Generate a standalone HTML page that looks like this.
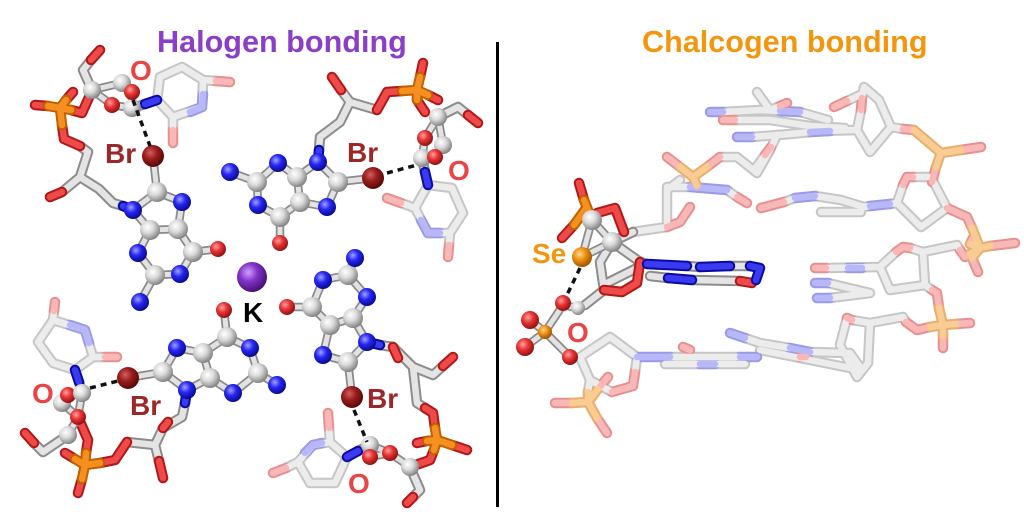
<!DOCTYPE html>
<html><head><meta charset="utf-8"><style>
html,body{margin:0;padding:0;background:#fff;width:1024px;height:521px;overflow:hidden}
svg{display:block}
text{font-family:"Liberation Sans",Arial,sans-serif;font-weight:bold}
</style></head><body>
<svg width="1024" height="521" viewBox="0 0 1024 521" xmlns="http://www.w3.org/2000/svg">
<defs>
<radialGradient id="gC" cx="0.38" cy="0.35" r="0.68"><stop offset="0" stop-color="#ffffff"/><stop offset="0.45" stop-color="#dadada"/><stop offset="1" stop-color="#7e7e7e"/></radialGradient>
<radialGradient id="gN" cx="0.38" cy="0.35" r="0.68"><stop offset="0" stop-color="#a0a0ff"/><stop offset="0.45" stop-color="#2626f2"/><stop offset="1" stop-color="#08088a"/></radialGradient>
<radialGradient id="gO" cx="0.38" cy="0.35" r="0.68"><stop offset="0" stop-color="#ffa0a0"/><stop offset="0.45" stop-color="#e63434"/><stop offset="1" stop-color="#8a1010"/></radialGradient>
<radialGradient id="gBr" cx="0.38" cy="0.35" r="0.68"><stop offset="0" stop-color="#d06060"/><stop offset="0.45" stop-color="#9a1c1c"/><stop offset="1" stop-color="#520808"/></radialGradient>
<radialGradient id="gK" cx="0.38" cy="0.35" r="0.68"><stop offset="0" stop-color="#d0a0ff"/><stop offset="0.45" stop-color="#8232c8"/><stop offset="1" stop-color="#441070"/></radialGradient>
<radialGradient id="gS" cx="0.38" cy="0.35" r="0.68"><stop offset="0" stop-color="#ffd890"/><stop offset="0.45" stop-color="#f09010"/><stop offset="1" stop-color="#985000"/></radialGradient>

<g id="PG">
<path d="M157,100 L160,77 L182,67 L203,80 L202,107 L173,117 Z M203,80 L216,81 M173,117 L173,130"/>
<path d="M428,185 L452,188 L463,213 L450,233 L428,233 L415,208 Z M415,208 L401,203 M450,233 L449,245"/>
<path d="M75,370 L53,363 L38,342 L53,320 L85,330 L93,357 Z M53,320 L54,311 M93,357 L105,357"/>
<path d="M347,457 L330,442 L313,445 L298,462 L310,483 L335,483 Z M330,442 L329,428 M298,462 L286,468"/>
<path d="M723,112 L760,110 L800,112 L828,120 M735,120 L770,120 L810,126 L845,128 M752,137 L790,134 L821,131 L857,130 M757,92 L770,110 L780,106 M754,170 L765,155"/>
<path d="M857,130 L861,110 M862,98 L864,87 L879,100 L891,127 L870,152 L857,130 M860,95 L847,101 M891,127 L903,129"/>
<path d="M720,157 L737,157 L757,173 L770,150 L777,135 M667,187 L690,187 M727,190 L737,197 M633,232 L667,227 L667,190 L680,180"/>
<path d="M784,202 L795,198 M815,196 L841,200 L864,207 L870,206 M890,204 L897,203 L903,185 M913,177 L931,177 L947,208 L921,227 L897,203 M821,212 L861,212"/>
<path d="M826,268 L880,267 M828,283 L870,293 M830,298 L870,293 M880,267 L896,252 M910,248 L923,252 L925,285 L890,290 L880,267 M923,252 L957,245 L960,250 M925,285 L932,290"/>
<path d="M745,338 L760,343 L790,348 M810,352 L850,353 L860,367 M760,350 L800,358 L860,370 M852,320 L870,323 L868,363 L857,377 L840,345 L847,318 M870,323 L903,317 L906,322"/>
<path d="M580,357 L610,337 L637,357 L635,372 M612,392 L590,380 L580,357 M670,357 L740,357 M665,364 L745,364 M590,380 L588,392"/>
</g>
<g id="PB">
<path d="M203,94 L202,107 L190,112 M440,233 L428,233 L421,220 M70,325 L85,330 L89,343 M322,443 L313,445 L305,453"/>
<path d="M710,112 L723,112 M780,111 L800,112 M737,137 L752,137 M810,132 L830,131 M690,187 L727,190 M795,198 L815,196 M870,206 L890,204 M815,283 L828,283 M817,298 L830,298 M848,268 L862,268 M730,333 L745,338 M790,348 L810,352 M637,357 L670,357 M740,357 L757,357 M700,364 L715,364"/>
</g>
<g id="PR">
<path d="M216,81 L230,82 M173,130 L173,143 M401,203 L387,198 M449,245 L448,257 M54,311 L55,302 M105,357 L117,357 M329,428 L328,413 M286,468 L273,473"/>
<path d="M723,120 L735,120 M780,106 L787,103 M765,155 L771,147 M861,110 L862,98 M847,101 L834,107 M903,129 L914,130 M667,157 L680,167 M707,167 L720,157 M737,197 L747,203 M667,227 L680,222 L690,207 M761,208 L784,202 M903,185 L907,177 L913,177 M947,208 L967,217 L972,228"/>
<path d="M961,150 L981,147 M936,167 L932,182 M990,246 L1015,243 M972,258 L978,272 M970,244 L973,238 M815,268 L826,268 M896,252 L903,247 L910,248 M960,250 L965,257 L970,254 M932,290 L937,293 L939,308 M956,324 L970,323 M943,336 L943,348 M930,327 L917,330 L906,322 M847,318 L852,320 M800,357 L806,357 M683,347 L690,350 M635,372 L633,386 L612,392 M572,403 L555,403 M597,418 L607,433 M598,389 L608,377"/>
</g>
<g id="PO">
<path d="M680,167 L693,177 L707,167 M693,177 L697,186 M914,130 L941,153 L961,150 M941,153 L936,167 M972,228 L980,248 L990,246 M980,248 L972,258 M980,248 L970,244 M970,254 L980,248 M939,308 L943,325 L943,336 M943,325 L956,324 M943,325 L930,327 M588,392 L588,402 L572,403 M588,402 L597,418 M588,402 L598,389"/>
</g>

<g id="SG">
<path d="M123,206 L113,203 L99,189 L80,177 L88,152 L80,146 M80,177 L62,192 M92,90 L83,70 L91,60 M132,108 L145,104"/>
<path d="M319,150 L320,137 L340,122 L350,102 L377,110 M350,102 L341,90 M438,117 L458,107 L468,115 M422,158 L425,172"/>
<path d="M185,403 L182,417 L163,428 L155,445 L127,442 M155,445 L159,461 M68,435 L43,452 L34,443 M79,382 L82,393"/>
<path d="M380,345 L393,347 L413,367 L433,375 L443,366 M413,367 L417,403 L425,408 M410,467 L420,490 L413,497 M358,451 L370,445"/>
<path d="M612,242 L633,232 M612,242 L640,262 L647,264 M600,262 L604,290 L585,305 M612,242 L600,262 M637,268 L607,283"/>
<path d="M687,266 L700,267 M730,266 L750,266 M650,276 L668,278 M692,280 L740,281"/>
</g>
<g id="SR">
<path d="M80,146 L64,139 L62,125 M48,106 L35,105 M66,100 L73,92 M71,110 L82,113 L90,95 M62,192 L50,197 M91,60 L100,50"/>
<path d="M377,110 L387,92 L402,91 M341,90 L332,77 M420,77 L423,63 M428,95 L438,100 M417,100 L425,112 M468,115 L478,123"/>
<path d="M159,461 L163,478 M127,442 L115,460 L100,463 M75,459 L65,453 M82,479 L78,493 M86,453 L88,440 L78,417 M34,443 L25,433 M163,428 L168,422"/>
<path d="M443,366 L453,357 M425,408 L433,413 L435,428 M452,445 L467,450 M427,441 L417,443 M434,450 L430,460 L410,467 M413,497 L407,503 M393,347 L398,358"/>
<path d="M579,183 L584,200 M574,225 L562,238 M597,213 L615,208 L624,232 M640,262 L637,283 L622,292 L604,290 M740,281 L752,283"/>
</g>
<g id="SO">
<path d="M62,125 L60,108 M60,108 L48,106 M60,108 L66,100 M60,108 L71,110"/>
<path d="M402,91 L417,90 M417,90 L420,77 M417,90 L428,95 M417,90 L417,100"/>
<path d="M100,463 L85,465 M85,465 L75,459 M85,465 L82,479 M85,465 L86,453"/>
<path d="M435,428 L437,440 M437,440 L452,445 M437,440 L427,441 M437,440 L434,450"/>
<path d="M584,200 L590,215 M587,207 L574,225"/>
</g>
<g id="SB">
<path d="M133,210 L123,206 M145,104 L157,100 M318,162 L319,150 M425,172 L428,185 M187,390 L185,403 M75,370 L79,382 M367,342 L380,345 M347,457 L358,451"/>
<path d="M647,264 L687,266 M700,267 L730,266 M750,266 L760,268 L756,280 M668,278 L692,280"/>
</g>
<g id="BB">
<path d="M153,156 L157,192 L182,202 L178,229 L150,230 L133,210 L157,192 M178,229 L193,252 L218,249 M193,252 L180,274 L155,275 L138,253 L150,230 M155,275 L140,302"/>
<path d="M373,178 L338,182 L318,162 L297,177 L300,202 L327,207 L338,182 M297,177 L278,163 L257,182 L258,205 L280,217 L300,202 M280,217 L280,243 M257,182 L230,172"/>
<path d="M128,378 L163,372 L177,348 L203,353 L210,378 L187,390 L163,372 M203,353 L227,337 L224,310 M227,337 L250,348 L258,373 L277,385 M258,373 L233,393 L210,378"/>
<path d="M352,397 L348,362 L323,355 L330,325 L353,318 L367,342 L348,362 M330,325 L312,307 L287,307 M312,307 L323,280 L348,275 L355,258 M348,275 L367,297 L353,318"/>
<path d="M92,90 L122,83 L132,92 L132,108 L112,105 L92,90 M438,117 L425,138 L422,158 L435,157 L443,145 L438,117 M68,395 L82,393 L78,417 L68,435 M62,403 L78,417 M62,403 L68,395 M370,445 L390,453 L410,467 M370,445 L370,457 L390,453"/>
<path d="M592,220 L582,257 L612,242 L592,220 M563,305 L577,308 M563,305 L545,332 L530,320 M545,332 L525,347 M545,332 L570,357"/>
</g>
</defs>

<!-- pale sticks -->
<g fill="none" stroke-linecap="round" stroke-linejoin="round">
<use href="#PG" stroke="#c6c6c6" stroke-width="10.5"/>
<use href="#PB" stroke="#9a9ae6" stroke-width="10.5"/>
<use href="#PR" stroke="#e69090" stroke-width="10.5"/>
<use href="#PO" stroke="#e8ae6c" stroke-width="10.5"/>
<use href="#PG" stroke="#ececec" stroke-width="6.5"/>
<use href="#PB" stroke="#b8b8f8" stroke-width="6.5"/>
<use href="#PR" stroke="#f8b8b8" stroke-width="6.5"/>
<use href="#PO" stroke="#f8cc92" stroke-width="6.5"/>
</g>
<!-- solid sticks -->
<g fill="none" stroke-linecap="round" stroke-linejoin="round">
<use href="#SG" stroke="#8c8c8c" stroke-width="10.5"/>
<use href="#SG" stroke="#e4e4e4" stroke-width="6.5"/>
<use href="#SR" stroke="#b01818" stroke-width="10.5"/>
<use href="#SR" stroke="#ee4a4a" stroke-width="6.5"/>
<use href="#SO" stroke="#c06000" stroke-width="10.5"/>
<use href="#SO" stroke="#f59020" stroke-width="6.5"/>
<use href="#SB" stroke="#0a0aa0" stroke-width="10.5"/>
<use href="#SB" stroke="#3a3af0" stroke-width="6.5"/>
<use href="#BB" stroke="#8a8a8a" stroke-width="8.5"/>
<use href="#BB" stroke="#e2e2e2" stroke-width="5"/>
</g>

<!-- balls -->
<g>
<circle cx="112" cy="105" r="8" fill="url(#gO)"/>
<circle cx="92" cy="90" r="9" fill="url(#gC)"/>
<circle cx="122" cy="83" r="9" fill="url(#gC)"/>
<circle cx="132" cy="108" r="9" fill="url(#gC)"/>
<circle cx="132" cy="92" r="8" fill="url(#gO)"/>
<circle cx="153" cy="156" r="11" fill="url(#gBr)"/>
<circle cx="157" cy="192" r="10" fill="url(#gC)"/>
<circle cx="182" cy="202" r="9" fill="url(#gN)"/>
<circle cx="133" cy="210" r="9" fill="url(#gN)"/>
<circle cx="178" cy="229" r="10" fill="url(#gC)"/>
<circle cx="150" cy="230" r="10" fill="url(#gC)"/>
<circle cx="193" cy="252" r="10" fill="url(#gC)"/>
<circle cx="218" cy="249" r="8" fill="url(#gO)"/>
<circle cx="180" cy="274" r="9" fill="url(#gN)"/>
<circle cx="155" cy="275" r="10" fill="url(#gC)"/>
<circle cx="138" cy="253" r="9" fill="url(#gN)"/>
<circle cx="140" cy="302" r="9" fill="url(#gN)"/>
<circle cx="438" cy="117" r="9" fill="url(#gC)"/>
<circle cx="425" cy="138" r="8" fill="url(#gO)"/>
<circle cx="443" cy="145" r="9" fill="url(#gC)"/>
<circle cx="422" cy="158" r="9" fill="url(#gC)"/>
<circle cx="435" cy="157" r="8" fill="url(#gO)"/>
<circle cx="373" cy="178" r="11" fill="url(#gBr)"/>
<circle cx="338" cy="182" r="10" fill="url(#gC)"/>
<circle cx="318" cy="162" r="9" fill="url(#gN)"/>
<circle cx="327" cy="207" r="9" fill="url(#gN)"/>
<circle cx="300" cy="202" r="10" fill="url(#gC)"/>
<circle cx="297" cy="177" r="10" fill="url(#gC)"/>
<circle cx="278" cy="163" r="9" fill="url(#gN)"/>
<circle cx="257" cy="182" r="10" fill="url(#gC)"/>
<circle cx="258" cy="205" r="9" fill="url(#gN)"/>
<circle cx="280" cy="217" r="10" fill="url(#gC)"/>
<circle cx="280" cy="243" r="8" fill="url(#gO)"/>
<circle cx="230" cy="172" r="9" fill="url(#gN)"/>
<circle cx="252" cy="277" r="15" fill="url(#gK)"/>
<circle cx="62" cy="403" r="9" fill="url(#gC)"/>
<circle cx="68" cy="395" r="8" fill="url(#gO)"/>
<circle cx="82" cy="393" r="9" fill="url(#gC)"/>
<circle cx="68" cy="435" r="9" fill="url(#gC)"/>
<circle cx="78" cy="417" r="8" fill="url(#gO)"/>
<circle cx="128" cy="378" r="11" fill="url(#gBr)"/>
<circle cx="163" cy="372" r="10" fill="url(#gC)"/>
<circle cx="177" cy="348" r="9" fill="url(#gN)"/>
<circle cx="187" cy="390" r="9" fill="url(#gN)"/>
<circle cx="203" cy="353" r="10" fill="url(#gC)"/>
<circle cx="210" cy="378" r="10" fill="url(#gC)"/>
<circle cx="227" cy="337" r="10" fill="url(#gC)"/>
<circle cx="224" cy="310" r="8" fill="url(#gO)"/>
<circle cx="250" cy="348" r="9" fill="url(#gN)"/>
<circle cx="258" cy="373" r="10" fill="url(#gC)"/>
<circle cx="233" cy="393" r="9" fill="url(#gN)"/>
<circle cx="277" cy="385" r="9" fill="url(#gN)"/>
<circle cx="370" cy="445" r="9" fill="url(#gC)"/>
<circle cx="390" cy="453" r="8" fill="url(#gO)"/>
<circle cx="370" cy="457" r="8" fill="url(#gO)"/>
<circle cx="410" cy="467" r="9" fill="url(#gC)"/>
<circle cx="352" cy="397" r="11" fill="url(#gBr)"/>
<circle cx="348" cy="362" r="10" fill="url(#gC)"/>
<circle cx="323" cy="355" r="9" fill="url(#gN)"/>
<circle cx="367" cy="342" r="9" fill="url(#gN)"/>
<circle cx="330" cy="325" r="10" fill="url(#gC)"/>
<circle cx="353" cy="318" r="10" fill="url(#gC)"/>
<circle cx="312" cy="307" r="10" fill="url(#gC)"/>
<circle cx="287" cy="307" r="8" fill="url(#gO)"/>
<circle cx="323" cy="280" r="9" fill="url(#gN)"/>
<circle cx="348" cy="275" r="10" fill="url(#gC)"/>
<circle cx="355" cy="258" r="9" fill="url(#gN)"/>
<circle cx="367" cy="297" r="9" fill="url(#gN)"/>
<circle cx="592" cy="220" r="10" fill="url(#gC)"/>
<circle cx="612" cy="242" r="10" fill="url(#gC)"/>
<circle cx="582" cy="257" r="10" fill="url(#gS)"/>
<circle cx="578" cy="308" r="7" fill="url(#gC)"/>
<circle cx="563" cy="303" r="8" fill="url(#gO)"/>
<circle cx="570" cy="357" r="8" fill="url(#gO)"/>
<circle cx="545" cy="332" r="7" fill="url(#gS)"/>
<circle cx="530" cy="320" r="9" fill="url(#gO)"/>
<circle cx="525" cy="347" r="9" fill="url(#gO)"/>
</g>

<!-- dashed contacts -->
<g stroke="#111" stroke-width="3.5" stroke-dasharray="6 5" fill="none">
<path d="M133,100 L150,146"/>
<path d="M387,173 L417,165"/>
<path d="M90,388 L118,381"/>
<path d="M354,410 L367,442"/>
<path d="M580,268 L566,297"/>
</g>

<rect x="496" y="42" width="3" height="465" fill="#000"/>

<text x="157" y="52" font-size="30.6" fill="#8a3fc6">Halogen bonding</text>
<text x="642" y="52" font-size="30.6" fill="#f3960f">Chalcogen bonding</text>

<g font-size="28">
<text x="130" y="80" fill="#e84646">O</text>
<text x="105" y="163" fill="#9b2828">Br</text>
<text x="347" y="162" fill="#9b2828">Br</text>
<text x="448" y="180" fill="#e84646">O</text>
<text x="243" y="322" fill="#000">K</text>
<text x="32" y="403" fill="#e84646">O</text>
<text x="130" y="415" fill="#9b2828">Br</text>
<text x="367" y="408" fill="#9b2828">Br</text>
<text x="348" y="493" fill="#e84646">O</text>
<text x="532" y="263" fill="#f3960f">Se</text>
<text x="567" y="342" fill="#e84646">O</text>
</g>
</svg>
</body></html>
